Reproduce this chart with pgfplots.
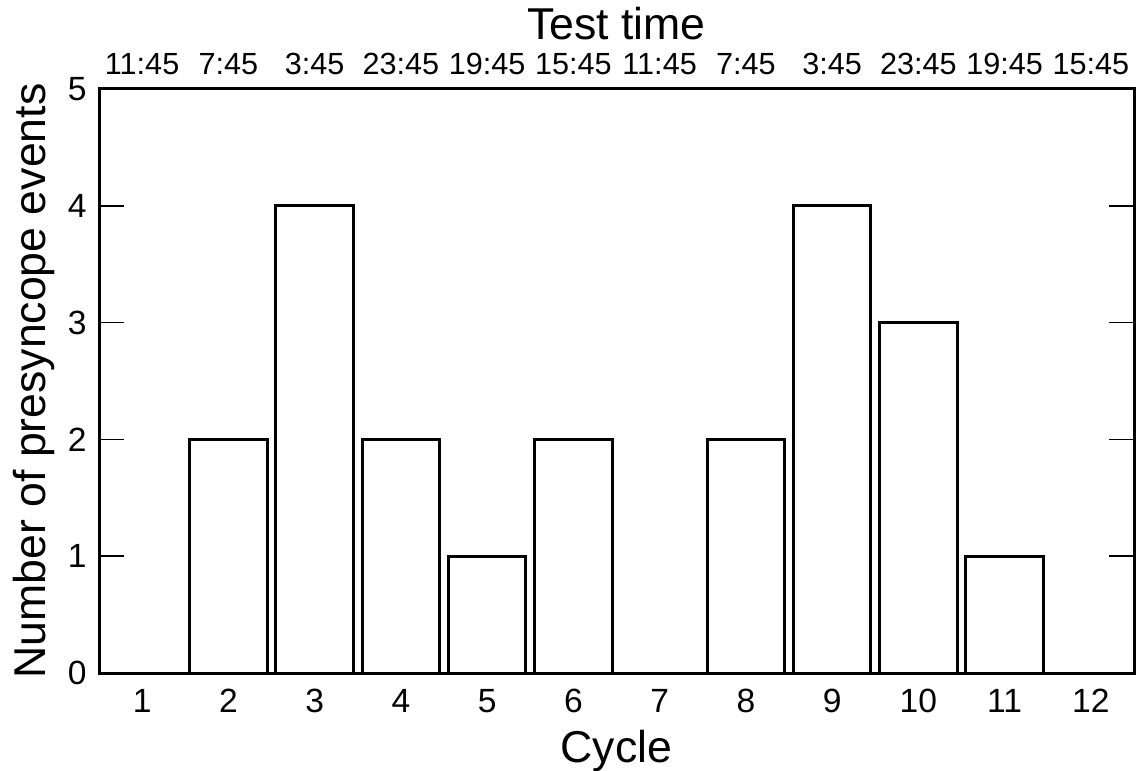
\documentclass[border=0pt]{standalone}
\usepackage{fontspec}
\setmainfont{Liberation Sans}
\usepackage{pgfplots}
\pgfplotsset{compat=1.18}

\pgfplotstableread{
cycle events
1 0
2 2
3 4
4 2
5 1
6 2
7 0
8 2
9 4
10 3
11 1
12 0
}\presyncope

\begin{document}
\begin{tikzpicture}
\pgfplotsset{
  common/.style={
    scale only axis,
    width=517.5pt, height=292pt,
    xmin=0.5, xmax=12.5,
    ymin=0, ymax=5,
    xtick={1,...,12},
    /pgf/number format/assume math mode=true,
    tick label style={font=\fontsize{16.8}{18}\selectfont, inner sep=0pt},
    label style={font=\fontsize{22.3}{24}\selectfont, inner sep=0pt},
  }
}
\begin{axis}[
  common,
  name=main,
  axis line style={line width=1.5pt},
  ytick={0,1,...,5},
  ytick pos=both,
  tick align=inside,
  major tick length=12.5pt,
  ytick style={line width=0.75pt, black},
  xtick style={draw=none},
  xtick pos=bottom,
  xlabel={Cycle},
  ylabel={Number of presyncope events},
  xlabel style={at={(axis description cs:0.5,0)}, anchor=base, yshift=-44.5pt},
  ylabel style={at={(axis description cs:0,0.5)}, anchor=base, yshift=27pt},
  xticklabel style={anchor=base, yshift=-19.5pt},
  yticklabel style={anchor=east, xshift=-6pt},
]
\addplot[ybar, bar width=0.9, fill=white, draw=black, line width=1.5pt]
  table[x=cycle, y=events] {\presyncope};
\end{axis}
\begin{axis}[
  common,
  hide y axis,
  axis x line*=top,
  axis line style={draw=none},
  xtick style={draw=none},
  xticklabels={11:45,7:45,3:45,23:45,19:45,15:45,11:45,7:45,3:45,23:45,19:45,15:45},
  xticklabel style={font=\fontsize{15.3}{17}\selectfont, anchor=base, yshift=7pt},
  xlabel={Test time},
  xlabel style={at={(axis description cs:0.5,1)}, anchor=base, yshift=24.5pt},
]
\addplot[draw=none] coordinates {(1,0) (12,0)};
\end{axis}
\pgfresetboundingbox
\path[use as bounding box]
  ([shift={(-49.5pt,-48.5pt)}]main.south west) rectangle
  ([shift={(2pt,44.5pt)}]main.north east);
\end{tikzpicture}
\end{document}
